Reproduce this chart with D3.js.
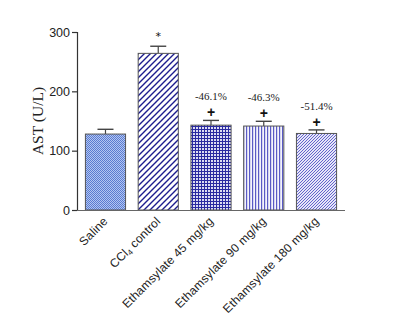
<!DOCTYPE html>
<html><head><meta charset="utf-8">
<script src="https://cdn.jsdelivr.net/npm/d3@7"></script>
<style>body{margin:0;background:#fff}</style>
</head><body>
<svg id="c" width="404" height="328"></svg>
<script>
const categories = ["Saline", "CCl4 control", "Ethamsylate 45 mg/kg", "Ethamsylate 90 mg/kg", "Ethamsylate 180 mg/kg"];
const values = [128, 264, 143, 141.5, 129];
const errors = [8, 12, 8, 8, 6];
const marks = ["", "*", "+", "+", "+"];
const percents = ["", "", "-46.1%", "-46.3%", "-51.4%"];
const yTicks = [0, 100, 200, 300];

const svg = d3.select("#c");
const defs = svg.append("defs");

function pat(id, w, h, draw) {
  const p = defs.append("pattern").attr("id", id).attr("patternUnits", "userSpaceOnUse")
    .attr("width", w).attr("height", h);
  draw(p);
}
pat("p0", 2, 2, p => {
  p.append("rect").attr("width", 2).attr("height", 2).attr("fill", "#b3c6f2");
  p.append("rect").attr("width", 1).attr("height", 1).attr("fill", "#5a7bd0");
  p.append("rect").attr("x", 1).attr("y", 1).attr("width", 1).attr("height", 1).attr("fill", "#5a7bd0");
});
pat("p1", 6, 6, p => {
  p.append("rect").attr("width", 6).attr("height", 6).attr("fill", "#fff");
  p.append("path").attr("d", "M-1,7 L7,-1 M-4,4 L4,-4 M2,10 L10,2").attr("stroke", "#1c1c8e").attr("stroke-width", 1.4);
});
pat("p2", 3, 3, p => {
  p.append("rect").attr("width", 3).attr("height", 3).attr("fill", "#dcdcf2");
  p.append("rect").attr("width", 1).attr("height", 3).attr("fill", "#2a2aa0");
  p.append("rect").attr("width", 3).attr("height", 1).attr("fill", "#2a2aa0");
});
pat("p3", 3, 3, p => {
  p.append("rect").attr("width", 3).attr("height", 3).attr("fill", "#f4f4fb");
  p.append("rect").attr("width", 1.2).attr("height", 3).attr("fill", "#5a5ac4");
});
pat("p4", 3, 3, p => {
  p.append("rect").attr("width", 3).attr("height", 3).attr("fill", "#e6e6f8");
  p.append("path").attr("d", "M-0.5,3.5 L3.5,-0.5 M-1,1 L1,-1 M2,4 L4,2").attr("stroke", "#6464cc").attr("stroke-width", 1);
});

const x = d3.scaleBand().domain(categories).range([77, 345]).paddingInner(0.22).paddingOuter(0.15);
const y = d3.scaleLinear().domain([0, 300]).range([210, 32]);

const g = svg.append("g");
categories.forEach((c, i) => {
  const x0 = x(c), bw = x.bandwidth(), cx = x0 + bw / 2;
  const yt = y(values[i]), ye = y(values[i] + errors[i]);
  g.append("line").attr("x1", cx).attr("x2", cx).attr("y1", yt).attr("y2", ye).attr("stroke", "#444").attr("stroke-width", 1.2);
  g.append("line").attr("x1", cx - 8).attr("x2", cx + 8).attr("y1", ye).attr("y2", ye).attr("stroke", "#444").attr("stroke-width", 1.4);
  g.append("rect").attr("x", x0 + 0.5).attr("y", yt).attr("width", bw - 1).attr("height", y(0) - yt)
    .attr("fill", `url(#p${i})`).attr("stroke", "#555").attr("stroke-width", 1);
  if (marks[i] === "*") {
    g.append("text").attr("x", cx).attr("y", ye - 6).attr("text-anchor", "middle")
      .attr("font-family", "DejaVu Sans, sans-serif").attr("font-size", 11).attr("fill", "#111").text("*");
  } else if (marks[i] === "+") {
    g.append("text").attr("x", cx).attr("y", ye - 3).attr("text-anchor", "middle")
      .attr("font-family", "Liberation Sans, Arial, sans-serif").attr("font-weight", "bold").attr("font-size", 14).attr("fill", "#111").text("+");
  }
  if (percents[i]) {
    g.append("text").attr("x", cx).attr("y", ye - 20).attr("text-anchor", "middle")
      .attr("font-family", "Liberation Serif, Times New Roman, serif").attr("font-size", 11).attr("fill", "#222").text(percents[i]);
  }
});

const ya = svg.append("g").attr("transform", "translate(77,0)")
  .call(d3.axisLeft(y).tickValues(yTicks).tickSize(5).tickPadding(2));
ya.select(".domain").attr("stroke", "#333").attr("stroke-width", 1.2);
ya.selectAll(".tick line").attr("stroke", "#333").attr("stroke-width", 1.2);
ya.selectAll(".tick text").attr("font-family", "Liberation Sans, Arial, sans-serif").attr("font-size", 12.5).attr("fill", "#222");

svg.append("line").attr("x1", 77).attr("x2", 345).attr("y1", 210.5).attr("y2", 210.5).attr("stroke", "#666").attr("stroke-width", 1.2);

categories.forEach((c, i) => {
  const cx = x(c) + x.bandwidth() / 2 + 3;
  const t = svg.append("text").attr("transform", `translate(${cx},222) rotate(-45)`)
    .attr("text-anchor", "end").attr("font-family", "Liberation Sans, Arial, sans-serif")
    .attr("font-size", 12).attr("letter-spacing", 0.2).attr("fill", "#222");
  if (c.startsWith("CCl4")) {
    t.append("tspan").text("CCl");
    t.append("tspan").attr("font-size", 8).attr("dy", 2).text("4");
    t.append("tspan").attr("dy", -2).text(" control");
  } else t.text(c);
});

svg.append("text").attr("transform", "translate(43,121) rotate(-90)").attr("text-anchor", "middle")
  .attr("font-family", "Liberation Serif, Times New Roman, serif").attr("font-size", 15.5).attr("fill", "#222").text("AST (U/L)");
</script>
</body></html>
